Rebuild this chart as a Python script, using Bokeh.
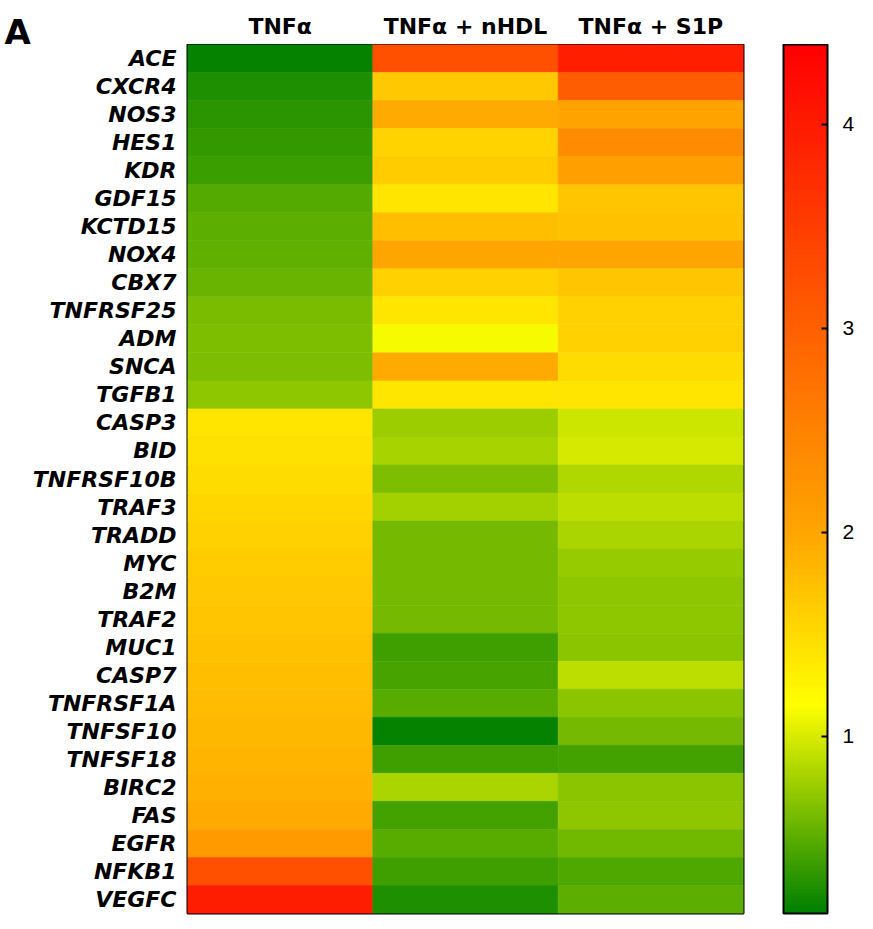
import numpy as np
from bokeh.plotting import figure
from bokeh.layouts import column, row
from bokeh.models import (LinearColorMapper, ColorBar, FixedTicker, Range1d,
                          ColumnDataSource, FactorRange)
from bokeh.core.properties import value
from bokeh.transform import transform
from bokeh.embed import file_html
from bokeh.resources import INLINE

# ---------------- data ----------------
genes = ["ACE", "CXCR4", "NOS3", "HES1", "KDR", "GDF15", "KCTD15", "NOX4", "CBX7",
         "TNFRSF25", "ADM", "SNCA", "TGFB1", "CASP3", "BID", "TNFRSF10B", "TRAF3",
         "TRADD", "MYC", "B2M", "TRAF2", "MUC1", "CASP7", "TNFRSF1A", "TNFSF10",
         "TNFSF18", "BIRC2", "FAS", "EGFR", "NFKB1", "VEGFC"]
conditions = ["TNFα", "TNFα + nHDL", "TNFα + S1P"]

tnf = [0.16, 0.25, 0.31, 0.33, 0.37, 0.47, 0.50, 0.52, 0.56, 0.62, 0.63, 0.63, 0.71,
       1.40, 1.44, 1.48, 1.54, 1.59, 1.63, 1.67, 1.70, 1.73, 1.76, 1.79, 1.82, 1.86,
       1.91, 1.95, 2.16, 3.23, 3.96]
tnf_nhdl = [3.23, 1.67, 1.96, 1.57, 1.63, 1.41, 1.76, 2.00, 1.59, 1.39, 1.12, 1.96, 1.39,
            0.75, 0.81, 0.64, 0.79, 0.60, 0.60, 0.60, 0.60, 0.39, 0.42, 0.48, 0.16, 0.39,
            0.82, 0.41, 0.49, 0.38, 0.25]
tnf_s1p = [3.93, 3.03, 2.04, 2.36, 2.07, 1.70, 1.73, 2.01, 1.69, 1.59, 1.59, 1.48, 1.41,
           0.95, 0.98, 0.83, 0.89, 0.82, 0.74, 0.71, 0.71, 0.69, 0.89, 0.69, 0.61, 0.41,
           0.69, 0.70, 0.59, 0.46, 0.51]

scale_low, scale_high = 0.13, 4.39
scale_ticks = [1, 2, 3, 4]
panel_letter = "A"

# ---------------- colour map (green -> yellow -> orange -> red) ----------------
stop_vals = [scale_low, 1.15, 2.0, scale_high]
stop_rgb = [(0, 128, 0), (255, 255, 0), (255, 165, 0), (255, 0, 0)]
vs = np.linspace(scale_low, scale_high, 256)
palette = []
for v in vs:
    r = np.interp(v, stop_vals, [c[0] for c in stop_rgb])
    g = np.interp(v, stop_vals, [c[1] for c in stop_rgb])
    b = np.interp(v, stop_vals, [c[2] for c in stop_rgb])
    palette.append("#%02x%02x%02x" % (int(round(r)), int(round(g)), int(round(b))))
mapper = LinearColorMapper(palette=palette, low=scale_low, high=scale_high)

xs, ys, vals = [], [], []
for cond, series in zip(conditions, [tnf, tnf_nhdl, tnf_s1p]):
    for g, v in zip(genes, series):
        xs.append(cond)
        ys.append(g)
        vals.append(v)
src = ColumnDataSource(dict(x=xs, y=ys, v=vals))

W = 857
LEFT, RIGHT = 187, 114
TOP_H = 44

# ---------------- main heatmap ----------------
p = figure(width=W, height=872, x_range=FactorRange(*conditions),
           y_range=FactorRange(*genes[::-1]), x_axis_location=None,
           output_backend="svg", toolbar_location=None,
           min_border_left=LEFT, min_border_right=RIGHT, min_border_top=0,
           min_border_bottom=3)

p.rect(x="x", y="y", width=1, height=1, source=src,
       fill_color=transform("v", mapper), line_color=transform("v", mapper),
       line_width=0.6)

p.grid.visible = False
p.outline_line_color = "black"
p.outline_line_width = 2
p.x_range.range_padding = 0
p.y_range.range_padding = 0

p.yaxis.axis_line_color = None
p.yaxis.major_tick_line_color = None
p.yaxis.minor_tick_line_color = None
p.yaxis.major_tick_out = 0
p.yaxis.major_tick_in = 0
p.yaxis.major_label_text_font = "DejaVu Sans"
p.yaxis.major_label_text_font_style = "bold italic"
p.yaxis.major_label_text_font_size = "22px"
p.yaxis.major_label_text_color = "black"
p.yaxis.major_label_standoff = 11

cb = ColorBar(color_mapper=mapper, ticker=FixedTicker(ticks=scale_ticks),
              width=44, padding=0, location=(40, 0),
              bar_line_color="black", bar_line_width=2,
              major_tick_line_color="black", major_tick_line_width=2,
              major_tick_in=6, major_tick_out=0,
              major_label_text_font="Liberation Sans",
              major_label_text_font_size="21px",
              major_label_text_color="black",
              label_standoff=15,
              background_fill_color=None, border_line_color=None)
p.add_layout(cb, "right")

# ---------------- header band ----------------
# left part: panel letter
letter_fig = figure(width=LEFT, height=TOP_H, x_range=Range1d(0, LEFT),
                    y_range=Range1d(0, TOP_H), x_axis_location=None,
                    y_axis_location=None, output_backend="svg",
                    toolbar_location=None, min_border=0)
letter_fig.grid.visible = False
letter_fig.outline_line_color = None
letter_fig.text(x=[4], y=[13], text=[panel_letter],
                text_font=value("DejaVu Sans"), text_font_style="bold",
                text_font_size="34px", text_color="black",
                text_align="left", text_baseline="alphabetic")

# right part: column titles, sharing the heatmap's categorical x scale
header_fig = figure(width=W - LEFT, height=TOP_H, x_range=p.x_range,
                    y_range=Range1d(0, TOP_H), x_axis_location=None,
                    y_axis_location=None, output_backend="svg",
                    toolbar_location=None, min_border_left=0,
                    min_border_right=RIGHT, min_border_top=0, min_border_bottom=0)
header_fig.grid.visible = False
header_fig.outline_line_color = None
header_fig.text(x=conditions, y=[18] * len(conditions), text=conditions,
                text_font=value("DejaVu Sans"), text_font_style="bold",
                text_font_size="22px", text_color="black",
                text_align="center", text_baseline="alphabetic")

layout = column(row(letter_fig, header_fig, spacing=0), p, spacing=0)
open("out.html", "w").write(file_html(layout, INLINE))
